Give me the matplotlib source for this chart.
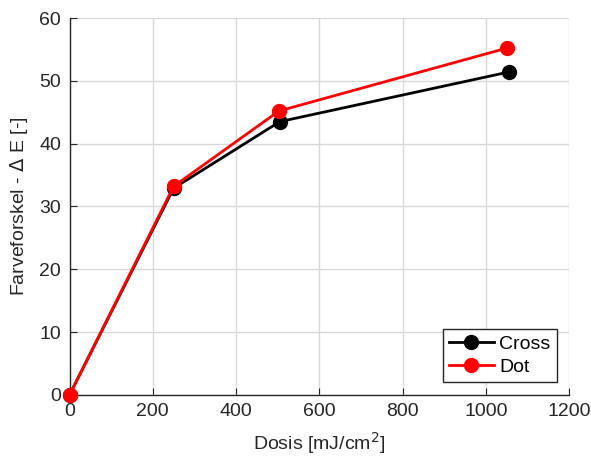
import matplotlib.pyplot as plt
import numpy as np

plt.rcParams['font.family'] = ['Liberation Sans', 'DejaVu Sans']

# data
dose_cross = [0, 250, 505, 1055]
dE_cross = [0, 32.9, 43.5, 51.4]
dose_dot = [0, 250, 503, 1050]
dE_dot = [0, 33.2, 45.2, 55.2]

xticks = [0, 200, 400, 600, 800, 1000, 1200]
yticks = [0, 10, 20, 30, 40, 50, 60]

fig = plt.figure(figsize=(5.91, 4.63), dpi=100)
ax = fig.add_axes([0.1176, 0.1469, 0.8452, 0.8142])

ax.plot(dose_cross, dE_cross, color='black', lw=2, marker='o', ms=10, label='Cross', clip_on=False, zorder=3)
ax.plot(dose_dot, dE_dot, color='red', lw=2, marker='o', ms=10, label='Dot', clip_on=False, zorder=4)

ax.set_xlim(0, 1200)
ax.set_ylim(0, 60)
ax.set_xticks(xticks)
ax.set_yticks(yticks)
ax.grid(True, color='#d8d8d8', lw=1)
ax.set_axisbelow(True)

for s in ['top', 'right']:
    ax.spines[s].set_visible(False)
for s in ['left', 'bottom']:
    ax.spines[s].set_color('#262626')
    ax.spines[s].set_linewidth(1)
ax.tick_params(direction='in', length=5, color='#262626', labelsize=14, labelcolor='#262626', pad=6)

ax.set_xlabel('Dosis [mJ/cm$^2$]', fontsize=14, color='#262626', labelpad=7)
ax.set_ylabel('Farveforskel - $\\Delta$ E [-]', fontsize=14, color='#262626', labelpad=7)

leg = ax.legend(loc='lower right', bbox_to_anchor=(0.975, 0.035), fontsize=14, fancybox=False,
                framealpha=1, edgecolor='#262626', borderpad=0.3, handlelength=2.3,
                handletextpad=0.3, labelspacing=0.3, borderaxespad=0)
leg.get_frame().set_linewidth(1)

fig.savefig('out.png', dpi=100)
